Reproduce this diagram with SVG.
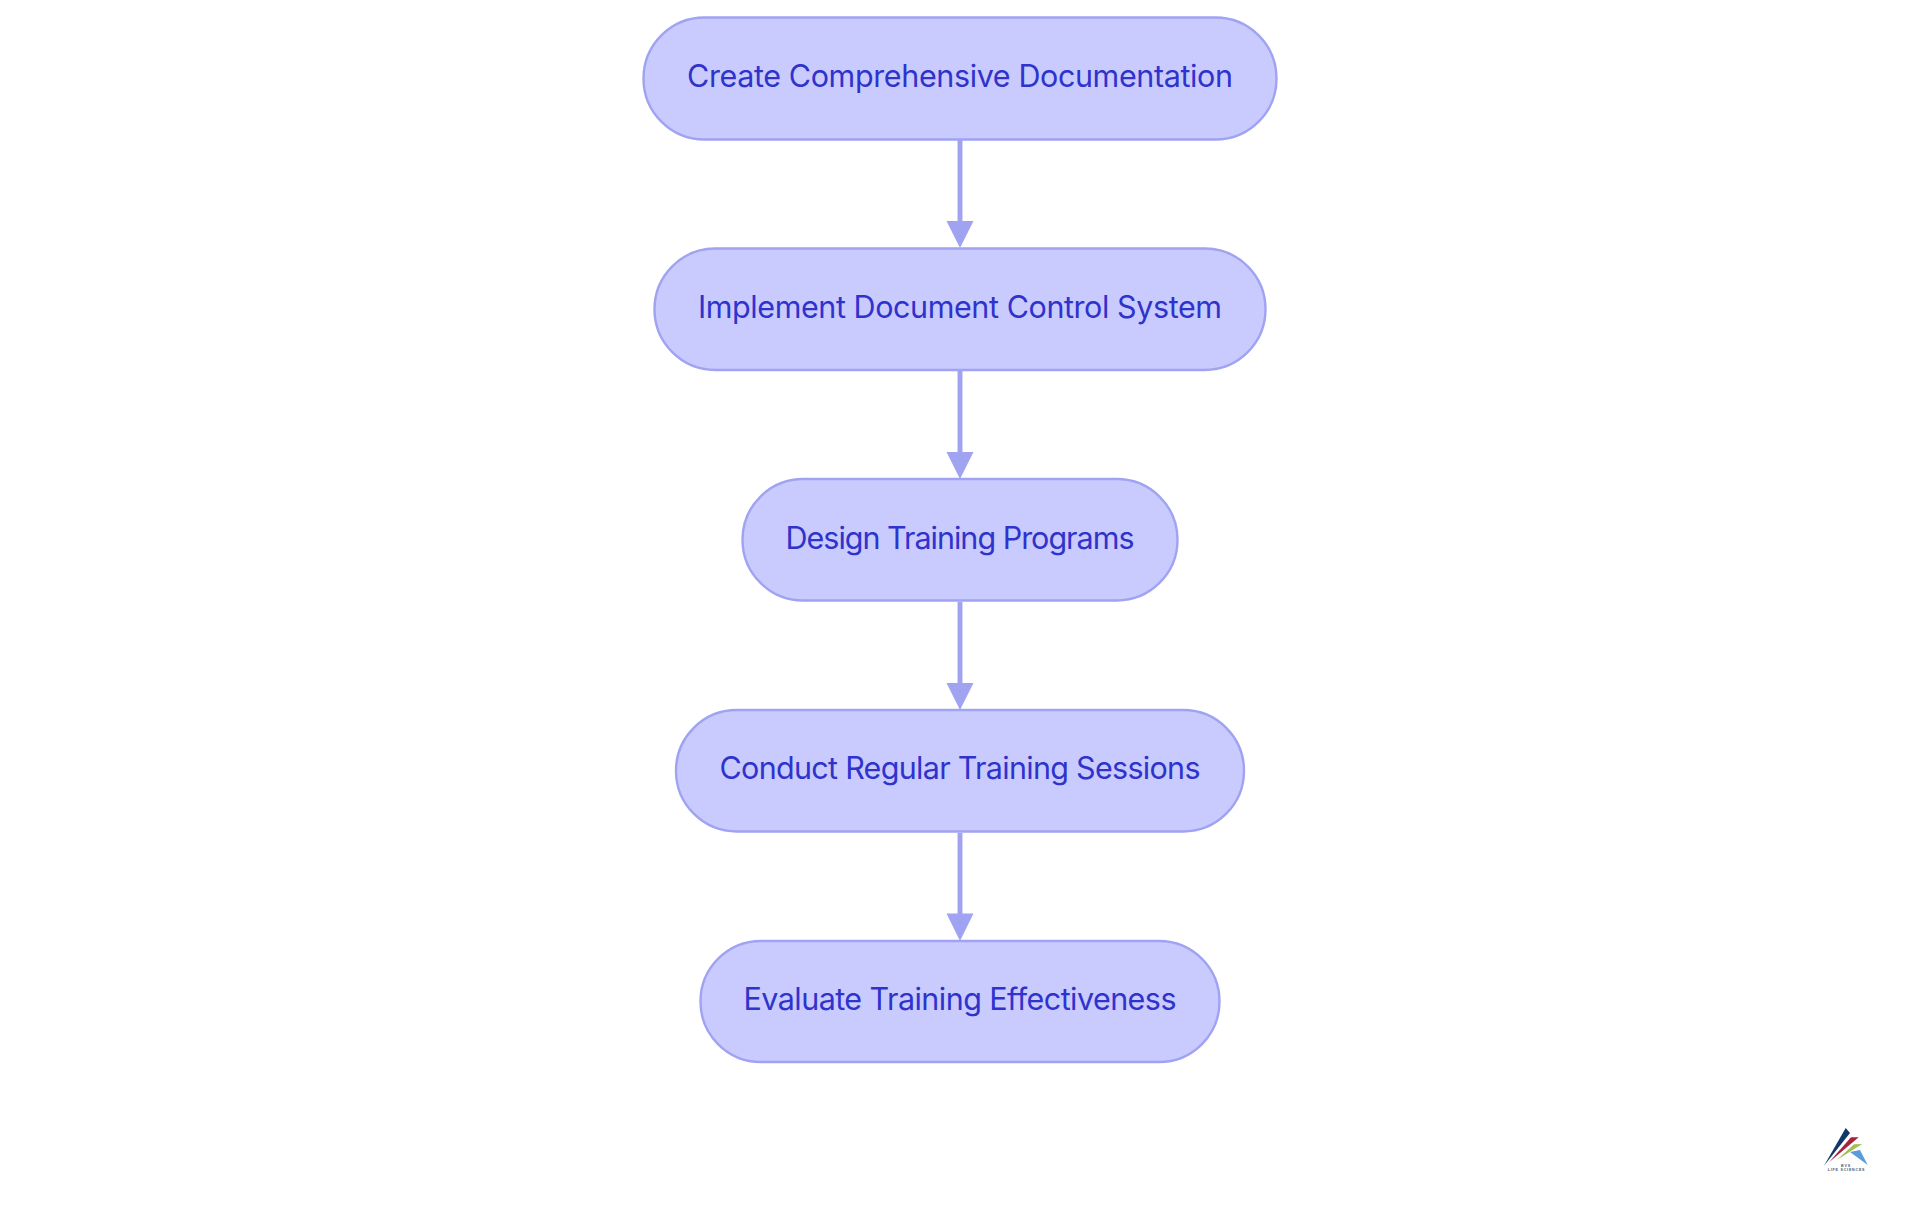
<svg xmlns="http://www.w3.org/2000/svg" width="1920" height="1215" viewBox="0 0 1920 1215">
<style>
.n{fill:#c9cbff;stroke:#9fa3f2;stroke-width:2.4}
.t{fill:#2f33cc;font-family:"Inter","Noto Sans",sans-serif;font-size:30.500px;text-anchor:middle;dominant-baseline:central}
.c{fill:none;stroke:#9fa3f2;stroke-width:4.9}
.a{fill:#9fa3f2}
.lt{fill:#4a5570;font-family:"Liberation Sans",sans-serif;text-anchor:middle;font-weight:700}
</style>
<rect width="1920" height="1215" fill="#fff"/>
<g id="connectors">
<path class="c" d="M960 140V221"/>
<path class="c" d="M960 371V452"/>
<path class="c" d="M960 602V683"/>
<path class="c" d="M960 833V914"/>
<path class="a" d="M946.500 221H973.500L960 248Z M946.500 452H973.500L960 479Z M946.500 683H973.500L960 710Z M946.500 913.500H973.500L960 941Z"/>
</g>
<g id="n1"><rect class="n" x="643.500" y="17.500" width="633" height="122" rx="61" ry="61"/><text class="t" x="960" y="75.500" textLength="546" lengthAdjust="spacing">Create Comprehensive Documentation</text></g>
<g id="n2"><rect class="n" x="654.500" y="248.500" width="611" height="121.500" rx="60.700" ry="60.700"/><text class="t" x="960" y="306.500" textLength="524" lengthAdjust="spacing">Implement Document Control System</text></g>
<g id="n3"><rect class="n" x="742.500" y="479" width="435" height="121.500" rx="60.700" ry="60.700"/><text class="t" x="960" y="537.500" textLength="349" lengthAdjust="spacing">Design Training Programs</text></g>
<g id="n4"><rect class="n" x="676" y="710" width="568" height="121.500" rx="60.700" ry="60.700"/><text class="t" x="960" y="767.500" textLength="481" lengthAdjust="spacing">Conduct Regular Training Sessions</text></g>
<g id="n5"><rect class="n" x="700.500" y="941" width="519" height="121" rx="60.500" ry="60.500"/><text class="t" x="960" y="998.500" textLength="433" lengthAdjust="spacing">Evaluate Training Effectiveness</text></g>
<g id="logo">
<path d="M1845.700 1128L1850 1133L1824 1165.700Z" fill="#12386b"/>
<path d="M1851 1137.300H1858.700L1829 1162.300Z" fill="#a8233a"/>
<path d="M1854 1144.300L1862.300 1144L1836.700 1160Z" fill="#a5bf55"/>
<path d="M1850 1152L1860 1150L1867.700 1165Z" fill="#5a9bdc"/>
<text class="lt" x="1846" y="1166.500" font-size="3.600" letter-spacing="0.800">BVS</text>
<text class="lt" x="1846.500" y="1170.500" font-size="3.600" letter-spacing="0.800">LIFE SCIENCES</text>
</g>
</svg>
